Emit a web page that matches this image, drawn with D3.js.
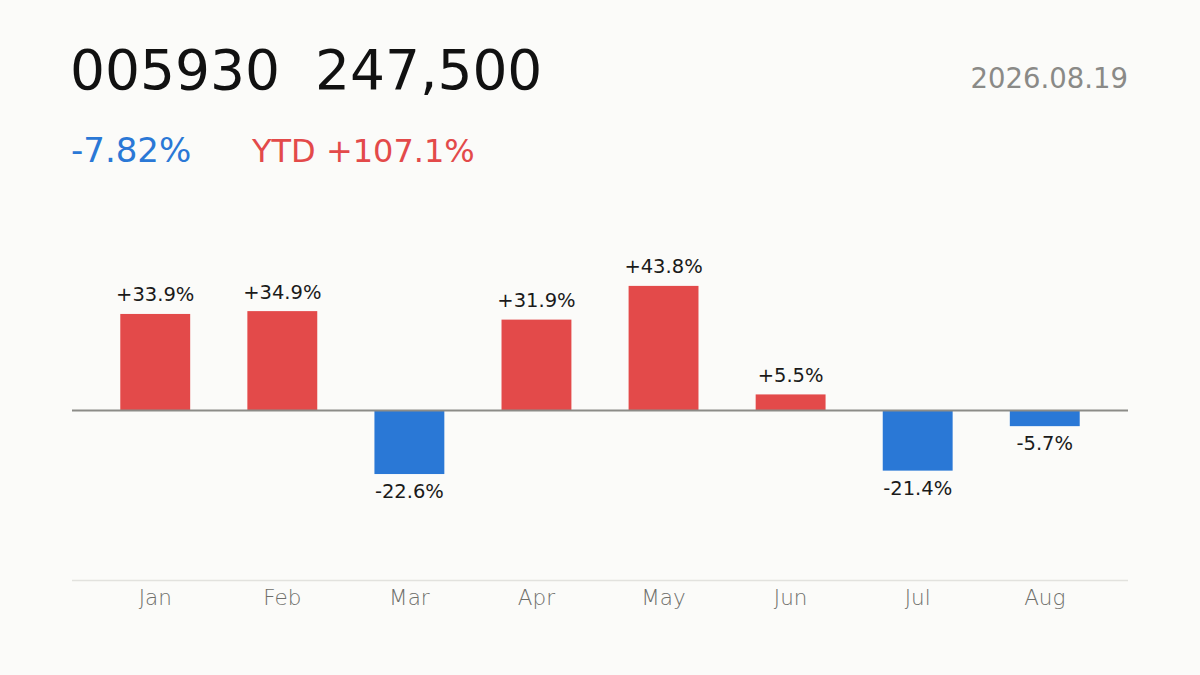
<!DOCTYPE html>
<html>
<head>
<meta charset="utf-8">
<script src="https://cdn.jsdelivr.net/npm/d3@7"></script>
<style>
  html, body { margin: 0; padding: 0; background: #fbfbf9; }
  svg { display: block; font-family: "DejaVu Sans", sans-serif; }
</style>
</head>
<body>
<svg id="chart" width="1200" height="675"></svg>
<script>
const ticker = "005930";
const price = "247,500";
const dateLabel = "2026.08.19";
const dayChange = "-7.82%";
const ytdLabel = "YTD +107.1%";
const months = ["Jan", "Feb", "Mar", "Apr", "May", "Jun", "Jul", "Aug"];
const returns = [33.9, 34.9, -22.6, 31.9, 43.8, 5.5, -21.4, -5.7];

const RED = "#e34a4a", BLUE = "#2a78d6";
const svg = d3.select("#chart");
svg.append("rect").attr("width", 1200).attr("height", 675).attr("fill", "#fbfbf9");

const x = d3.scaleBand().domain(months).range([72, 1128]).paddingInner(0.45).paddingOuter(0.38);
const y = d3.scaleLinear().domain([-60, 60]).range([580, 240]);

// header
svg.append("text").attr("x", 70).attr("y", 89).attr("font-size", 55).attr("fill", "#111")
  .attr("xml:space", "preserve").text(ticker + "  " + price);
svg.append("text").attr("x", 1128).attr("y", 88).attr("font-size", 27.5).attr("fill", "#8a8a87")
  .attr("text-anchor", "end").text(dateLabel);
svg.append("text").attr("x", 71).attr("y", 162).attr("font-size", 34).attr("fill", BLUE).text(dayChange);
svg.append("text").attr("x", 252).attr("y", 162).attr("font-size", 32).attr("fill", RED).text(ytdLabel);

// bottom axis line
svg.append("line").attr("x1", 72).attr("x2", 1128).attr("y1", 580.5).attr("y2", 580.5)
  .attr("stroke", "#e2e2de").attr("stroke-width", 1.5);

const data = months.map((m, i) => ({ m, v: returns[i] }));

svg.append("g").selectAll("rect").data(data).join("rect")
  .attr("x", d => x(d.m))
  .attr("width", x.bandwidth())
  .attr("y", d => y(Math.max(0, d.v)))
  .attr("height", d => Math.abs(y(d.v) - y(0)))
  .attr("fill", d => d.v >= 0 ? RED : BLUE);

// zero line
svg.append("line").attr("x1", 72).attr("x2", 1128).attr("y1", y(0) + 0.5).attr("y2", y(0) + 0.5)
  .attr("stroke", "#8c8c88").attr("stroke-width", 2);

// value labels
svg.append("g").selectAll("text").data(data).join("text")
  .attr("x", d => x(d.m) + x.bandwidth() / 2)
  .attr("y", d => d.v >= 0 ? y(d.v) - 12.5 : y(d.v) + 24)
  .attr("text-anchor", "middle").attr("font-size", 19.5).attr("fill", "#1a1a1a")
  .text(d => (d.v >= 0 ? "+" : "") + d.v.toFixed(1) + "%");

// x axis labels
const xAxis = d3.axisBottom(x).tickSize(0).tickPadding(0);
const gx = svg.append("g").attr("transform", "translate(0,605)").call(xAxis);
gx.select(".domain").remove();
gx.selectAll("text").attr("font-size", 21.5).attr("fill", "#6f6f6b")
  .attr("font-family", "'DejaVu Sans', sans-serif").attr("font-weight", 200)
  .attr("dy", null).attr("y", 0);
</script>
</body>
</html>
